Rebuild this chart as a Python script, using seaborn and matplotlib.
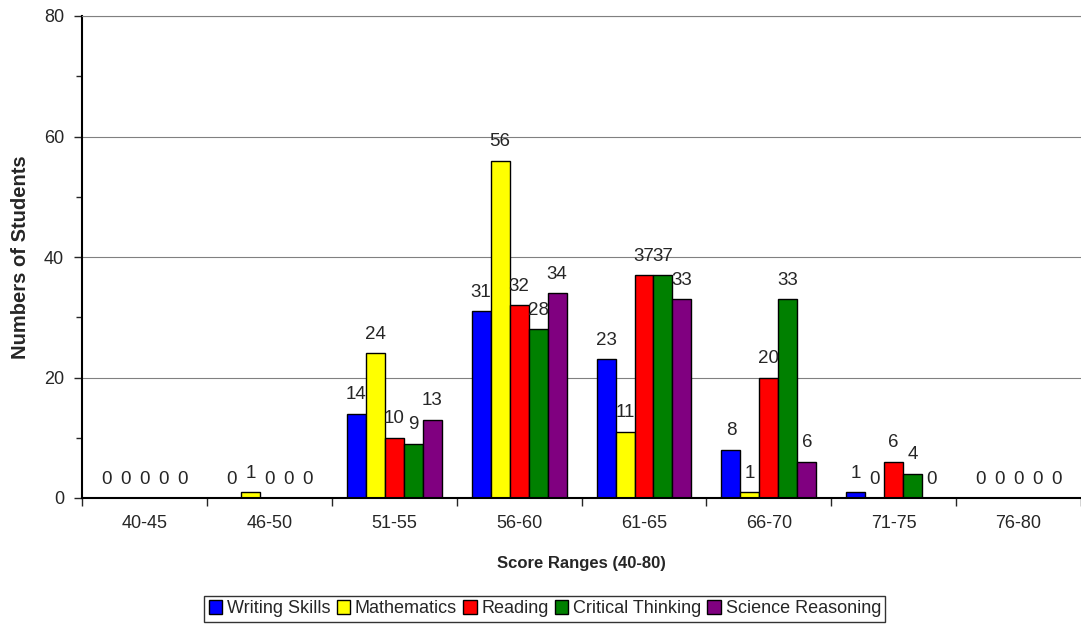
import pandas as pd
import seaborn as sns
import matplotlib.pyplot as plt
from matplotlib.ticker import MultipleLocator

# Данные
ranges = ["40-45", "46-50", "51-55", "56-60", "61-65", "66-70", "71-75", "76-80"]
subjects = ["Writing Skills", "Mathematics", "Reading", "Critical Thinking", "Science Reasoning"]
writing = [0, 0, 14, 31, 23, 8, 1, 0]
math = [0, 1, 24, 56, 11, 1, 0, 0]
reading = [0, 0, 10, 32, 37, 20, 6, 0]
critical = [0, 0, 9, 28, 37, 33, 4, 0]
science = [0, 0, 13, 34, 33, 6, 0, 0]
colors = ["#0000FF", "#FFFF00", "#FF0000", "#008000", "#800080"]

rows = []
for name, vals in zip(subjects, [writing, math, reading, critical, science]):
    for r, v in zip(ranges, vals):
        rows.append({"range": r, "subject": name, "count": v})
df = pd.DataFrame(rows)

sns.set_style("white")
plt.rcParams["font.family"] = ["Liberation Sans", "DejaVu Sans"]

fig = plt.figure(figsize=(10.81, 6.25), dpi=100)
ax = fig.add_axes([0.076, 0.2032, 0.924, 0.7712])

sns.barplot(data=df, x="range", y="count", hue="subject", order=ranges,
            hue_order=subjects, palette=colors, width=0.76,
            edgecolor="black", linewidth=1, saturation=1, ax=ax)

for cont in ax.containers:
    ax.bar_label(cont, fmt="%d", padding=7.5, fontsize=13.5)

ax.set_xlim(-0.5, 7.5)
ax.set_ylim(0, 80)
ax.yaxis.set_major_locator(MultipleLocator(20))
ax.yaxis.set_minor_locator(MultipleLocator(10))
ax.set_xticks([i - 0.5 for i in range(9)], minor=True)
ax.tick_params(axis="x", which="major", length=0, labelsize=13, pad=12.5)
ax.tick_params(axis="x", which="minor", length=6, width=1, direction="out", bottom=True)
ax.tick_params(axis="y", which="major", length=6, width=1, direction="out", left=True,
               labelsize=13, pad=7)
ax.tick_params(axis="y", which="minor", length=4, width=1, direction="out", left=True)
ax.yaxis.grid(True, which="major", color="#808080", linewidth=0.8)
ax.set_axisbelow(True)

for s in ["left", "bottom"]:
    ax.spines[s].set_color("black")
    ax.spines[s].set_linewidth(1.5)
ax.spines["top"].set_color("#808080")
ax.spines["top"].set_linewidth(0.8)
ax.spines["right"].set_visible(False)

ax.set_xlabel("Score Ranges (40-80)", fontsize=12, fontweight="bold", labelpad=17)
ax.set_ylabel("Numbers of Students", fontsize=14.5, fontweight="bold", labelpad=10)

ax.legend_.remove()
handles = [plt.Rectangle((0, 0), 1, 1, facecolor=c, edgecolor="black", linewidth=1) for c in colors]
leg = fig.legend(handles, subjects, loc="center", bbox_to_anchor=(0.504, 0.026), ncol=5,
                 fontsize=13, frameon=True, fancybox=False, handlelength=0.75,
                 handleheight=0.75, handletextpad=0.25, columnspacing=0.35,
                 borderpad=0.25, borderaxespad=0)
leg.get_frame().set_edgecolor("black")
leg.get_frame().set_linewidth(1)

plt.savefig("out.png", dpi=100)
